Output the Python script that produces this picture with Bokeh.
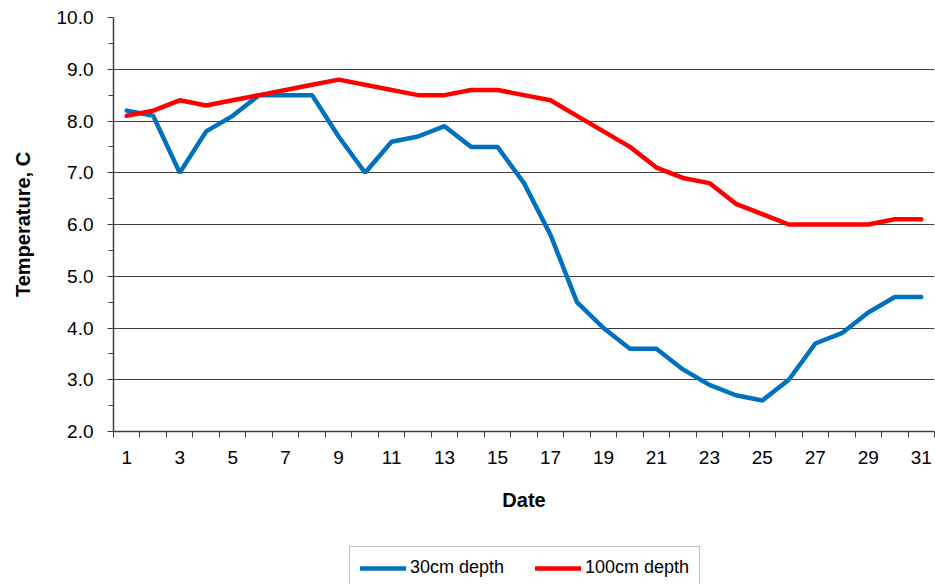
from bokeh.plotting import figure
from bokeh.layouts import column
from bokeh.models import FixedTicker, NumeralTickFormatter, Range1d, Legend, LegendItem, ColumnDataSource
from bokeh.embed import file_html
from bokeh.resources import INLINE

dates = list(range(1, 32))
depth_30cm = [8.2, 8.1, 7.0, 7.8, 8.1, 8.5, 8.5, 8.5, 7.7, 7.0, 7.6, 7.7, 7.9, 7.5, 7.5, 6.8,
              5.8, 4.5, 4.0, 3.6, 3.6, 3.2, 2.9, 2.7, 2.6, 3.0, 3.7, 3.9, 4.3, 4.6, 4.6]
depth_100cm = [8.1, 8.2, 8.4, 8.3, 8.4, 8.5, 8.6, 8.7, 8.8, 8.7, 8.6, 8.5, 8.5, 8.6, 8.6, 8.5,
               8.4, 8.1, 7.8, 7.5, 7.1, 6.9, 6.8, 6.4, 6.2, 6.0, 6.0, 6.0, 6.0, 6.1, 6.1]
x_tick_labels = dates[::2]
y_ticks = [2, 3, 4, 5, 6, 7, 8, 9, 10]
series_names = ["30cm depth", "100cm depth"]
series_colors = ["#0070C0", "#FF0000"]

FONT = "Liberation Sans"

src = ColumnDataSource(dict(date=dates, d30=depth_30cm, d100=depth_100cm))

p = figure(width=935, height=546, output_backend="svg", toolbar_location=None,
           x_range=Range1d(dates[0] - 0.5, dates[-1] + 0.5),
           y_range=Range1d(y_ticks[0], y_ticks[-1]),
           min_border_left=113, min_border_right=1, min_border_top=17, min_border_bottom=115)
p.outline_line_color = None
p.background_fill_color = "white"
p.border_fill_color = "white"

r1 = p.line("date", "d30", source=src, line_color=series_colors[0], line_width=4.5, line_cap="round")
r2 = p.line("date", "d100", source=src, line_color=series_colors[1], line_width=4.5, line_cap="round")

# x axis: labels on odd dates, tick marks between dates
xb = [d - 0.5 for d in dates] + [dates[-1] + 0.5]
p.xaxis.ticker = FixedTicker(ticks=x_tick_labels, minor_ticks=xb)
p.xaxis.major_tick_out = 0
p.xaxis.major_tick_in = 0
p.xaxis.minor_tick_out = 6
p.xaxis.minor_tick_in = 0
p.xaxis.axis_label = "Date"

yminor = [v + 0.5 for v in y_ticks[:-1]]
p.yaxis.ticker = FixedTicker(ticks=y_ticks, minor_ticks=yminor)
p.yaxis.formatter = NumeralTickFormatter(format="0.0")
p.yaxis.major_tick_out = 6
p.yaxis.major_tick_in = 0
p.yaxis.minor_tick_out = 5
p.yaxis.minor_tick_in = 0
p.yaxis.axis_label = "Temperature, C"

for ax in (p.xaxis, p.yaxis):
    ax.axis_line_color = "#404040"
    ax.axis_line_width = 1.5
    ax.major_tick_line_color = "#404040"
    ax.minor_tick_line_color = "#404040"
    ax.major_label_text_font = FONT
    ax.major_label_text_font_size = "19px"
    ax.major_label_text_color = "black"
    ax.axis_label_text_font = FONT
    ax.axis_label_text_font_size = "20px"
    ax.axis_label_text_font_style = "bold"
    ax.axis_label_text_color = "black"

p.xaxis.major_label_standoff = 13
p.xaxis.axis_label_standoff = 22
p.yaxis.major_label_standoff = 14
p.yaxis.axis_label_standoff = 20

p.xgrid.grid_line_color = None
p.ygrid.ticker = FixedTicker(ticks=y_ticks)
p.ygrid.grid_line_color = "#404040"
p.ygrid.grid_line_width = 1

# legend strip below the chart (same data, drawn out of view; only the legend shows)
pl = figure(width=935, height=38, output_backend="svg", toolbar_location=None,
            x_range=Range1d(1000, 1001), y_range=Range1d(1000, 1001),
            x_axis_type=None, y_axis_type=None,
            min_border_left=0, min_border_right=0, min_border_top=0, min_border_bottom=0)
pl.outline_line_color = None
pl.xgrid.visible = False
pl.ygrid.visible = False
pl.background_fill_color = "white"
pl.border_fill_color = "white"
l1 = pl.line("date", "d30", source=src, line_color=series_colors[0], line_width=4.5, line_cap="round")
l2 = pl.line("date", "d100", source=src, line_color=series_colors[1], line_width=4.5, line_cap="round")

legend = Legend(items=[LegendItem(label=series_names[0], renderers=[l1]),
                       LegendItem(label=series_names[1], renderers=[l2])],
                orientation="horizontal", location=(236, -5),
                padding=10, margin=0, spacing=31, glyph_width=46, glyph_height=20,
                label_standoff=4, label_text_font=FONT, label_text_font_size="18px",
                label_text_color="black", border_line_color="#808080", border_line_width=1,
                background_fill_color="white", background_fill_alpha=1)
pl.add_layout(legend, "center")

layout = column(p, pl, spacing=0)
open("out.html", "w").write(file_html(layout, INLINE))
